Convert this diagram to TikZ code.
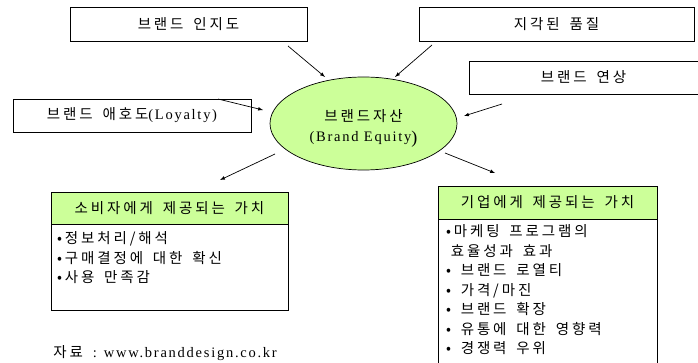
\documentclass[tikz,border=0pt]{standalone}
\usepackage{fontspec}
\setmainfont{Liberation Serif}
\newfontfamily\kr[LetterSpace=20,WordSpace=1.6]{Noto Sans CJK KR}
\newfontfamily\lat[LetterSpace=12]{Liberation Serif}
\usetikzlibrary{arrows,shapes.geometric}
\definecolor{lightlime}{RGB}{204,255,153}

\begin{document}
\begin{tikzpicture}[x=1pt,y=-1pt,inner sep=0pt,line width=0.7pt,
    box/.style={draw,rectangle,font=\kr\fontsize{14.5}{15}\selectfont},
    head/.style={box,fill=lightlime},
    items/.style={anchor=north west,align=left,font=\kr\fontsize{14.5}{19.5}\selectfont},
    link/.style={-latex}]
    \useasboundingbox (0,0) rectangle (698,363);
    \node[box,minimum width=237pt,minimum height=34pt] (aware) at (188.5,24) {브랜드 인지도};
    \node[box,minimum width=275pt,minimum height=34pt] (quality) at (556.5,24) {지각된 품질};
    \node[box,minimum width=229pt,minimum height=33pt] (assoc) at (583.5,77.5) {브랜드 연상};
    \node[box,minimum width=238pt,minimum height=33pt] (loyal) at (132,115.5) {브랜드 애호도{\lat\fontsize{14.5}{15}\selectfont(Loyalty)}};
    \node[ellipse,draw,fill=lightlime,minimum width=187pt,minimum height=93pt] (equity) at (363.5,123.5) {};
    \node[align=center] (equitytext) at ([yshift=-5pt]equity.center)
        {{\kr\fontsize{14.5}{15}\selectfont 브랜드자산}\\[8pt]{\lat\fontsize{14.5}{15}\selectfont(Brand Equity\raisebox{-2pt}{\fontsize{18}{18}\selectfont)}}};
    % 소비자 / 기업
    \node[head,minimum width=237pt,minimum height=32pt] (consumer) at (169.5,208) {소비자에게 제공되는 가치};
    \node[box,minimum width=237pt,minimum height=86pt,anchor=north] (consumerbody) at (consumer.south) {};
    \node[items] (consumeritems) at ([shift={(6,7)}]consumerbody.north west)
        {•정보처리/해석\\•구매결정에 대한 확신\\•사용 만족감};
    \node[head,minimum width=219pt,minimum height=33pt] (firm) at (547.5,202.5) {기업에게 제공되는 가치};
    \node[box,minimum width=219pt,minimum height=150pt,anchor=north] (firmbody) at (firm.south) {};
    \node[items] (firmitems) at ([shift={(8,5)}]firmbody.north west)
        {•마케팅 프로그램의\\\hphantom{•}효율성과 효과\\• 브랜드 로열티\\• 가격/마진\\• 브랜드 확장\\• 유통에 대한 영향력\\• 경쟁력 우위};
    \node[anchor=west] (source) at (53,353) {{\kr\fontsize{14.5}{15}\selectfont 자료 }{\lat\fontsize{14.5}{15}\selectfont: www.branddesign.co.kr}};
    % arrows
    \coordinate (a1) at (288,46);   \coordinate (b1) at (325,77);
    \coordinate (a2) at (432,45);   \coordinate (b2) at (395,77);
    \coordinate (a3) at (502,104);  \coordinate (b3) at (464,116);
    \coordinate (a4) at (218,99);   \coordinate (b4) at (263,110);
    \coordinate (a5) at (275,154);  \coordinate (b5) at (220,180);
    \coordinate (a6) at (445,153);  \coordinate (b6) at (495,173);
    \foreach \i in {1,...,6} \draw[link] (a\i) -- (b\i);
\end{tikzpicture}
\end{document}
